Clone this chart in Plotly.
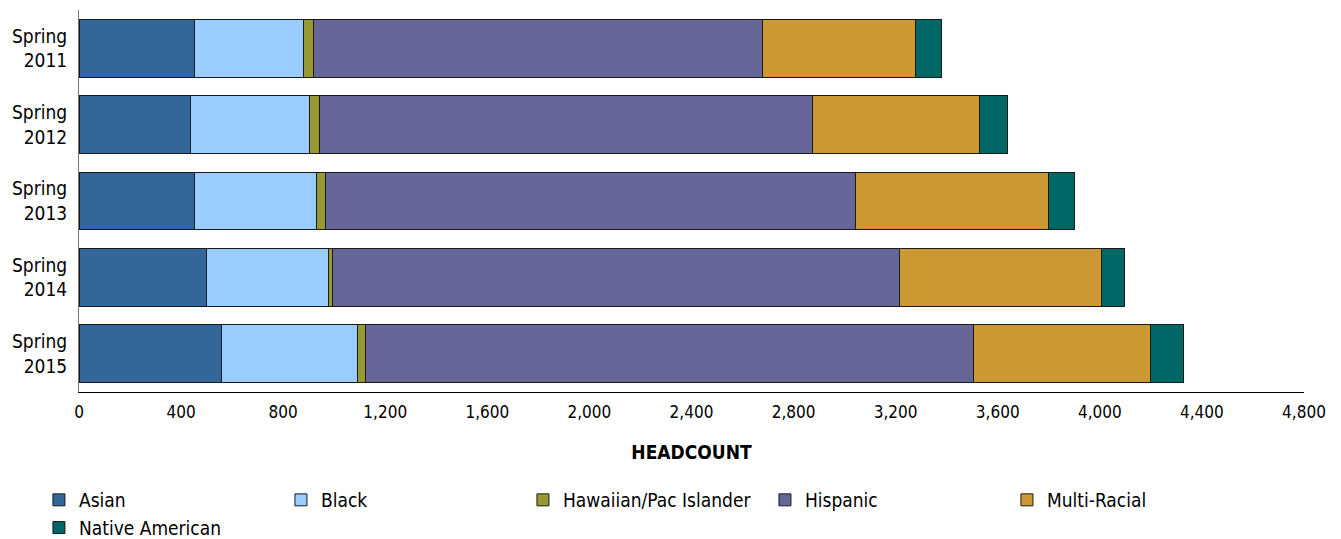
import plotly.graph_objects as go

terms = ["Spring<br>2011", "Spring<br>2012", "Spring<br>2013", "Spring<br>2014", "Spring<br>2015"]
asian = [453, 437, 453, 499, 557]
black = [426, 465, 479, 478, 533]
hawaiian = [38, 42, 32, 17, 32]
hispanic = [1761, 1932, 2077, 2222, 2384]
multi_racial = [600, 653, 759, 789, 692]
native_american = [100, 109, 100, 90, 131]
x_ticks = list(range(0, 4801, 400))

series = [
    ("Asian", asian, "#336699"),
    ("Black", black, "#99CCFF"),
    ("Hawaiian/Pac Islander", hawaiian, "#999933"),
    ("Hispanic", hispanic, "#666699"),
    ("Multi-Racial", multi_racial, "#CC9933"),
    ("Native American", native_american, "#006666"),
]

FONT = "DejaVu Sans Condensed"

fig = go.Figure()
for name, vals, color in series:
    fig.add_trace(go.Bar(
        name=name, y=terms, x=vals, orientation="h",
        marker=dict(color=color, line=dict(color="#1a1a1a", width=1)),
    ))

fig.update_layout(
    barmode="stack",
    bargap=0.245,
    width=1333, height=531,
    margin=dict(l=71, r=37, t=2, b=147, autoexpand=False),
    plot_bgcolor="white", paper_bgcolor="white",
    font=dict(family=FONT, size=16, color="#000000"),
    xaxis=dict(
        range=[0, 4800], tickvals=x_ticks,
        ticktext=[f"{v:,}" for v in x_ticks],
        showgrid=False, zeroline=False,
        showline=True, linecolor="#000000", linewidth=1,
        ticks="", ticklabelstandoff=5,
        tickfont=dict(family=FONT, size=17),
        title=dict(text="<b>HEADCOUNT</b>", font=dict(family=FONT, size=19), standoff=24),
    ),
    yaxis=dict(
        autorange="reversed", showgrid=False, zeroline=False,
        showline=True, linecolor="#777777", linewidth=1,
        ticks="", ticklabelstandoff=7,
        tickfont=dict(family=FONT, size=19),
    ),
    legend=dict(
        orientation="h", x=-0.0327, xanchor="left", y=-0.233, yanchor="top",
        entrywidth=197, entrywidthmode="pixels",
        font=dict(family=FONT, size=19), traceorder="normal",
        tracegroupgap=0,
    ),
    showlegend=True,
)

fig.write_html("out.html")
